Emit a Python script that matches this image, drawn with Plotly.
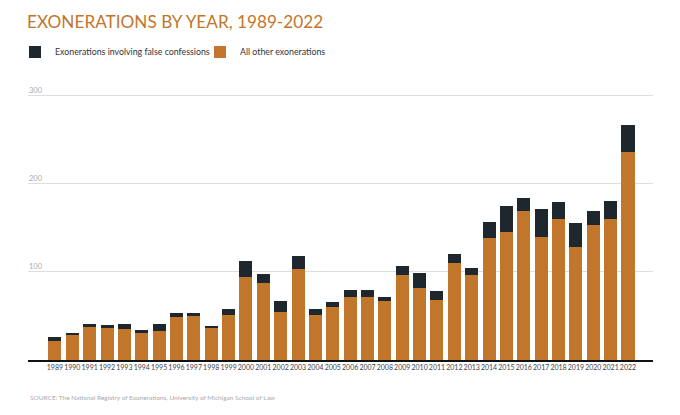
import plotly.graph_objects as go

# Data
years = [str(y) for y in range(1989, 2023)]
false_confessions = [4, 2, 4, 4, 6, 3, 8, 4, 3, 3, 7, 19, 10, 12, 15, 7, 6, 8, 8, 5,
                     10, 17, 10, 10, 8, 18, 30, 15, 32, 19, 28, 16, 21, 31]
other_exonerations = [22, 29, 37, 36, 35, 31, 33, 49, 50, 36, 51, 94, 88, 55, 103, 51, 60, 71, 71, 67,
                      97, 82, 68, 110, 97, 139, 145, 169, 140, 160, 128, 153, 160, 236]
y_ticks = [100, 200, 300]

ORANGE = "#C2762B"
DARK = "#1E272D"
FONT = "Lato, 'Open Sans', sans-serif"

# the page puts the figure 8px in from the top-left corner of the window
PAGE_PAD = 8
W, H = 680 - PAGE_PAD, 415 - PAGE_PAD

# plot area in window pixels: x 28..653, y 80..360
L, R, T, B = 28 - PAGE_PAD, 680 - 653, 80 - PAGE_PAD, 415 - 360
PLOT_H = 360 - 80


def cy(y_px):
    """window pixel row -> container fraction"""
    return 1 - (y_px - PAGE_PAD) / H


fig = go.Figure()

# stacked: orange at the bottom, dark segment on top
fig.add_trace(go.Bar(
    x=years, y=other_exonerations, name="All other exonerations",
    marker=dict(color=ORANGE, line=dict(width=0)),
))
fig.add_trace(go.Bar(
    x=years, y=false_confessions, name="Exonerations involving false confessions",
    marker=dict(color=DARK, line=dict(width=0)),
))

fig.update_layout(
    width=W, height=H,
    barmode="stack", bargap=0.25,
    paper_bgcolor="white", plot_bgcolor="white",
    margin=dict(l=L, r=R, t=T, b=B, autoexpand=False),
    font=dict(family=FONT, color="#333333"),
    title=dict(
        text="EXONERATIONS BY YEAR, 1989-2022",
        font=dict(family=FONT, size=17.2, color=ORANGE),
        x=(27 - PAGE_PAD) / W, xanchor="left",
        y=cy(22), yanchor="middle",
    ),
    legend=dict(
        orientation="h", traceorder="reversed",
        xref="container", x=(15 - PAGE_PAD) / W, xanchor="left",
        yref="container", y=cy(52), yanchor="middle",
        font=dict(size=8.8, color="#333333"),
        itemwidth=30, entrywidth=140, bgcolor="rgba(0,0,0,0)",
    ),
    showlegend=True,
)

fig.update_xaxes(
    type="category",
    range=[-1.55, len(years) + 0.44],
    automargin=False,
    showline=True, linecolor="#111111", linewidth=1.5,
    ticks="", tickangle=0, tickfont=dict(size=7, color="#444444"),
    showgrid=False,
)

fig.update_yaxes(
    range=[0, 318],
    automargin=False,
    tickvals=y_ticks,
    showgrid=True, gridcolor="#DDDDDD", gridwidth=1,
    zeroline=False, showline=False,
    ticklabelposition="inside top",
    ticklabelstandoff=-2,
    tickfont=dict(size=7.5, color="#AAAAAA"),
)

# source line under the chart
fig.add_annotation(
    text="SOURCE: The National Registry of Exonerations, University of Michigan School of Law",
    xref="paper", yref="paper", x=0, y=(360 - 397) / PLOT_H,
    xanchor="left", yanchor="middle", showarrow=False,
    font=dict(size=6.5, color="#AAAAAA", family=FONT),
)

fig.write_html("out.html")
